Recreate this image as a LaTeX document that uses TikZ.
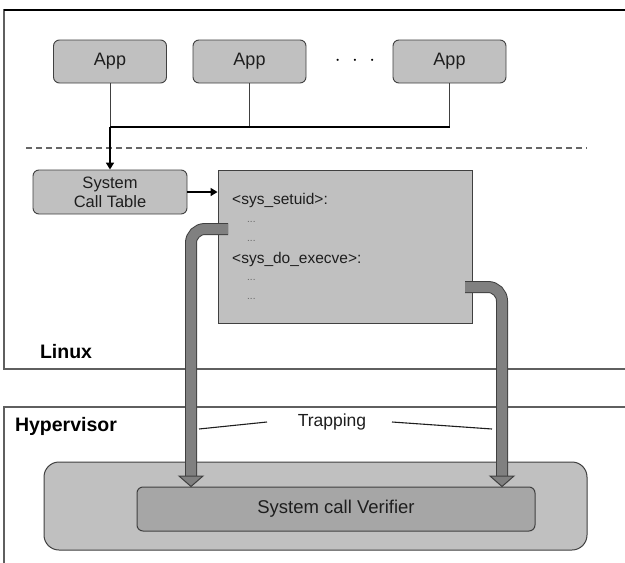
\documentclass[tikz,border=0pt]{standalone}
\usepackage{fontspec}
\setmainfont{Liberation Sans}
\usetikzlibrary{arrows.meta, positioning}
\definecolor{boxgray}{RGB}{192, 192, 192}
\definecolor{innergray}{RGB}{166, 166, 166}
\definecolor{pipegray}{RGB}{128, 128, 128}
\definecolor{edgedark}{RGB}{64, 64, 64}
\definecolor{framegray}{RGB}{95, 95, 95}
\definecolor{textdark}{RGB}{30, 30, 30}

\begin{document}
\begin{tikzpicture}[
    x=1pt, y=1pt,
    appbox/.style={rectangle, draw=edgedark, fill=boxgray, rounded corners=6pt, minimum width=113pt, minimum height=43pt, line width=0.9pt, font=\fontsize{18}{19}\selectfont, text=textdark},
    codebox/.style={rectangle, draw=edgedark, fill=boxgray, minimum width=254pt, minimum height=153pt, line width=0.9pt},
    codeline/.style={anchor=west, inner sep=0pt, font=\fontsize{15.5}{17}\selectfont, text=textdark},
    codedots/.style={anchor=west, inner sep=0pt, font=\fontsize{10}{11}\selectfont, text=black!60},
    layerlabel/.style={font=\fontsize{19.5}{21}\selectfont\bfseries, text=black},
    frame/.style={draw=framegray, line width=1.2pt},
    appline/.style={draw=edgedark, line width=0.9pt},
    busline/.style={draw=black, line width=1.6pt},
    arrow/.style={busline, -{Triangle[length=7pt, width=8pt]}},
    sepline/.style={draw=black!60, line width=1.8pt, dash pattern=on 6pt off 4pt},
    pipe/.style={draw=edgedark, line width=1pt, double=pipegray, double distance=10pt, rounded corners=14pt},
    pipehead/.style={fill=pipegray, draw=edgedark, line width=1pt, line join=miter},
    trapline/.style={draw=textdark, line width=1.1pt},
]
\clip (0,0) rectangle (625,-563);
\fill[white] (0,0) rectangle (625,-563);

% Layer frames
\draw[frame] (4,-10) rectangle (660,-369);
\draw[black, line width=1.6pt] (4,-10) -- (660,-10);
\draw[frame] (4,-407) rectangle (660,-600);
\node[layerlabel] (linuxlbl) at (66,-352) {Linux};
\node[layerlabel] (hyperlbl) at (66,-426) {Hypervisor};

% Applications
\node[appbox] (app1) at (110,-61.5) {App};
\node[appbox] (app2) at (249.5,-61.5) {App};
\node[appbox] (app3) at (449.5,-61.5) {App};
\node[font=\fontsize{22}{24}\selectfont] (dots) at (355,-61) {$\cdot\,\,\cdot\,\,\cdot$};

% User / kernel separator
\draw[sepline] (26,-148) -- (587,-148);

% Kernel side
\node[appbox, minimum width=154pt, minimum height=44pt, align=center, font=\fontsize{16.5}{19}\selectfont] (sct) at (110,-192) {System\\Call Table};
\node[codebox] (code) at (345,-246.5) {};
\node[codeline] (setuid) at (232,-200) {<sys\_setuid>:};
\node[codedots] (d1) at (247,-222) {...};
\node[codedots] (d2) at (247,-241) {...};
\node[codeline] (execve) at (232,-259) {<sys\_do\_execve>:};
\node[codedots] (d3) at (247,-280) {...};
\node[codedots] (d4) at (247,-299) {...};

% Hypervisor side
\node[rectangle, draw=edgedark, fill=boxgray, rounded corners=15pt, minimum width=543pt, minimum height=88pt, line width=1pt] (vouter) at (315.5,-506) {};
\node[rectangle, draw=edgedark, fill=innergray, rounded corners=6pt, minimum width=398pt, minimum height=44pt, line width=1pt, font=\fontsize{18.5}{20}\selectfont, text=textdark] (verifier) at (336,-509) {System call Verifier};

% App calls
\coordinate (bus) at (110,-127);
\draw[appline] (app1.south) -- (app1.south |- bus);
\draw[appline] (app2.south) -- (app2.south |- bus);
\draw[appline] (app3.south) -- (app3.south |- bus);
\draw[busline] (app3.south |- bus) -- (bus);
\draw[arrow] (bus) -- (sct.north);
\draw[arrow] (sct.east) -- (sct.east -| code.west);

% Trapping pipes
\coordinate (lstub) at (228,-229);
\coordinate (ldown) at (191,-476);
\coordinate (rstub) at (465,-287);
\coordinate (rdown) at (502,-476);
\draw[pipe] (lstub) -- (lstub -| ldown) -- (ldown);
\draw[pipe] (rstub) -- (rstub -| rdown) -- (rdown);
\draw[pipehead] ([xshift=-12pt]ldown) -- ([xshift=12pt]ldown) -- (ldown |- verifier.north) -- cycle;
\draw[pipehead] ([xshift=-12pt]rdown) -- ([xshift=12pt]rdown) -- (rdown |- verifier.north) -- cycle;

% Trapping label
\node[font=\fontsize{17.5}{19}\selectfont, text=textdark] (trap) at (332,-422) {Trapping};
\coordinate (tl1) at (199,-429);
\coordinate (tl2) at (267,-422);
\coordinate (tr1) at (392,-422);
\coordinate (tr2) at (492,-429);
\draw[trapline] (tl1) -- (tl2);
\draw[trapline] (tr1) -- (tr2);

\end{tikzpicture}
\end{document}
